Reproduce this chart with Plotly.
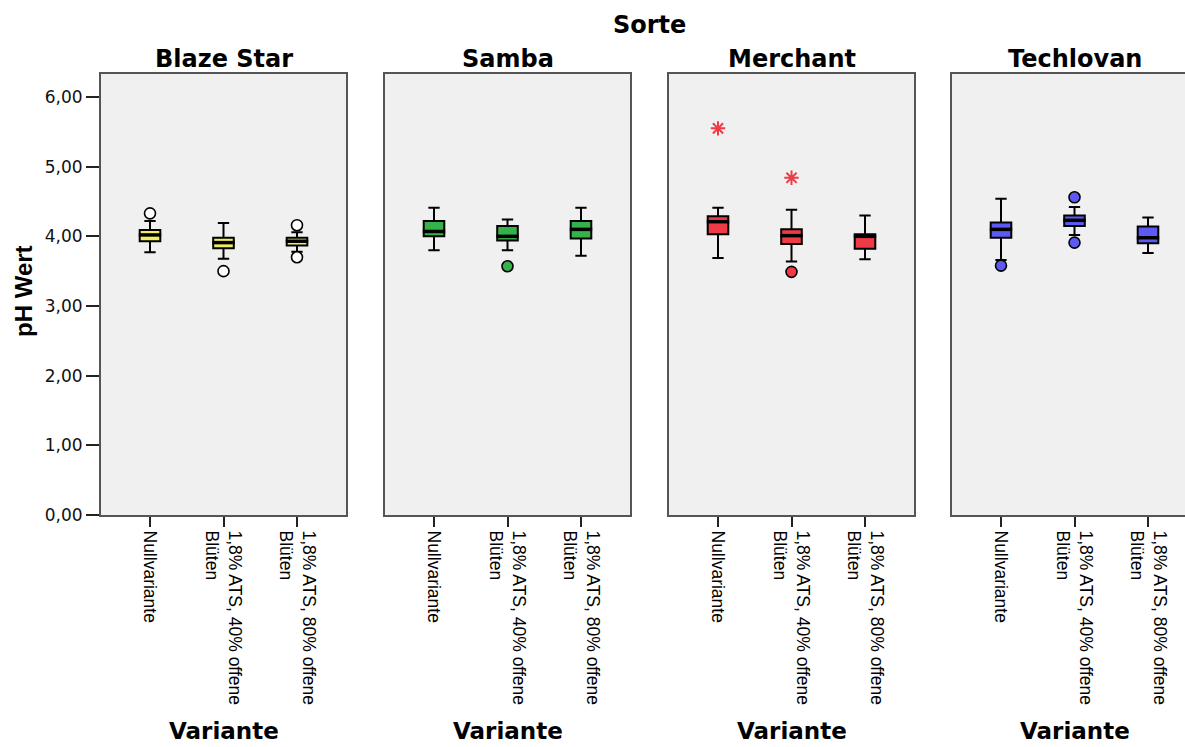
import plotly.graph_objects as go

W, H = 1185, 747

sorten = ["Blaze Star", "Samba", "Merchant", "Techlovan"]
varianten = ["Nullvariante",
             "1,8% ATS, 40% offene<br>Blüten",
             "1,8% ATS, 80% offene<br>Blüten"]
colors = ["#F3EC63", "#35B24A", "#EE3B45", "#5B5BF4"]
outlier_fill = ["white", "#35B24A", "#EE3B45", "#5B5BF4"]

# per Sorte: lists over Varianten
lower = [[3.77, 3.68, 3.78], [3.80, 3.80, 3.72], [3.69, 3.64, 3.67], [3.66, 4.02, 3.76]]
q1    = [[3.93, 3.83, 3.87], [4.00, 3.94, 3.97], [4.03, 3.89, 3.82], [3.98, 4.15, 3.90]]
med   = [[4.02, 3.91, 3.93], [4.07, 4.00, 4.10], [4.21, 4.01, 4.00], [4.10, 4.23, 3.98]]
q3    = [[4.09, 3.98, 3.98], [4.22, 4.15, 4.22], [4.29, 4.10, 4.03], [4.20, 4.30, 4.14]]
upper = [[4.22, 4.19, 4.06], [4.41, 4.24, 4.41], [4.41, 4.38, 4.30], [4.54, 4.42, 4.27]]

# outliers (circles) : (sorte index, variante index, value)
out_sorte = [0, 0, 0, 0, 1, 2, 3, 3, 3]
out_var   = [0, 1, 2, 2, 1, 1, 0, 1, 1]
out_val   = [4.33, 3.50, 4.16, 3.70, 3.57, 3.49, 3.58, 4.56, 3.91]
# extreme values (stars)
ext_sorte = [2, 2]
ext_var   = [0, 1]
ext_val   = [5.55, 4.84]

ytickvals = [0, 1, 2, 3, 4, 5, 6]
yticktext = ["0,00", "1,00", "2,00", "3,00", "4,00", "5,00", "6,00"]

# panel geometry in pixels
panel_left = [101, 385, 669, 952]
panel_w = 245
top_px, bot_px = 74, 515
units_per_px = 3.3333 / panel_w

fig = go.Figure()
layout = {}
for i, s in enumerate(sorten):
    ax = "" if i == 0 else str(i + 1)
    xa, ya = "x" + ax, "y" + ax
    for j, v in enumerate(varianten):
        fig.add_trace(go.Box(
            x=[j], q1=[q1[i][j]], median=[med[i][j]], q3=[q3[i][j]],
            lowerfence=[lower[i][j]], upperfence=[upper[i][j]],
            width=0.28, whiskerwidth=0.55,
            fillcolor=colors[i], line=dict(color="black", width=2),
            boxpoints=False, showlegend=False, hoverinfo="skip",
            xaxis=xa, yaxis=ya))
    # thicker median lines
    fig.add_trace(go.Scatter(
        x=[0, 1, 2], y=med[i], mode="markers", showlegend=False, hoverinfo="skip",
        marker=dict(symbol="line-ew-open", size=16, color="black",
                    line=dict(color="black", width=3.5)),
        xaxis=xa, yaxis=ya))
    ox = [out_var[k] for k in range(len(out_val)) if out_sorte[k] == i]
    oy = [out_val[k] for k in range(len(out_val)) if out_sorte[k] == i]
    if ox:
        fig.add_trace(go.Scatter(
            x=ox, y=oy, mode="markers", showlegend=False, hoverinfo="skip",
            marker=dict(symbol="circle", size=11, color=outlier_fill[i],
                        line=dict(color="black", width=1.6)),
            xaxis=xa, yaxis=ya))
    ex = [ext_var[k] for k in range(len(ext_val)) if ext_sorte[k] == i]
    ey = [ext_val[k] for k in range(len(ext_val)) if ext_sorte[k] == i]
    if ex:
        fig.add_trace(go.Scatter(
            x=ex, y=ey, mode="markers", showlegend=False, hoverinfo="skip",
            marker=dict(symbol="asterisk-open", size=12, color=colors[i],
                        line=dict(color=colors[i], width=2)),
            xaxis=xa, yaxis=ya))

    left = panel_left[i]
    right = min(left + panel_w, W)
    x0 = -0.6667
    x1 = x0 + (right - left) * units_per_px
    layout["xaxis" + ax] = dict(
        domain=[left / W, right / W], anchor=ya, range=[x0, x1],
        tickvals=[0, 1, 2], ticktext=varianten, tickangle=90,
        ticks="outside", ticklen=10, tickwidth=2, tickcolor="#222",
        showline=True, linecolor="#555", linewidth=2, mirror=True,
        showgrid=False, zeroline=False, automargin=False,
        tickfont=dict(family="Liberation Sans, Arial", size=17.5, color="black"))
    layout["yaxis" + ax] = dict(
        domain=[(H - bot_px) / H, (H - top_px) / H], anchor=xa,
        range=[0, (bot_px - top_px) / ((bot_px - 97) / 6.0)],
        tickvals=ytickvals, ticktext=yticktext,
        showticklabels=(i == 0), ticks="outside" if i == 0 else "",
        ticklen=13, tickwidth=2, tickcolor="#222",
        showline=True, linecolor="#555", linewidth=2,
        mirror=(i < 3), showgrid=False, zeroline=False, automargin=False,
        tickfont=dict(family="DejaVu Sans", size=17, color="#111"))

def ann(text, x, y, size, angle=0, family="DejaVu Sans"):
    return dict(text=text, x=x / W, y=1 - y / H, xref="paper", yref="paper",
                xanchor="center", yanchor="middle", textangle=angle,
                showarrow=False,
                font=dict(family=family, size=size, color="black"))

annotations = [ann("<b>Sorte</b>", 649, 25, 24),
               ann("<b>pH Wert</b>", 24, 291, 24, -90, "Liberation Sans, Arial")]
for i, s in enumerate(sorten):
    cx = panel_left[i] + panel_w / 2
    annotations.append(ann("<b>" + s + "</b>", cx, 59, 24))
    annotations.append(ann("<b>Variante</b>", cx, 731, 23))

fig.update_layout(
    width=W, height=H, margin=dict(l=0, r=0, t=0, b=0, autoexpand=False),
    paper_bgcolor="white", plot_bgcolor="#F0F0F0",
    annotations=annotations, **layout)

fig.write_html("out.html")
